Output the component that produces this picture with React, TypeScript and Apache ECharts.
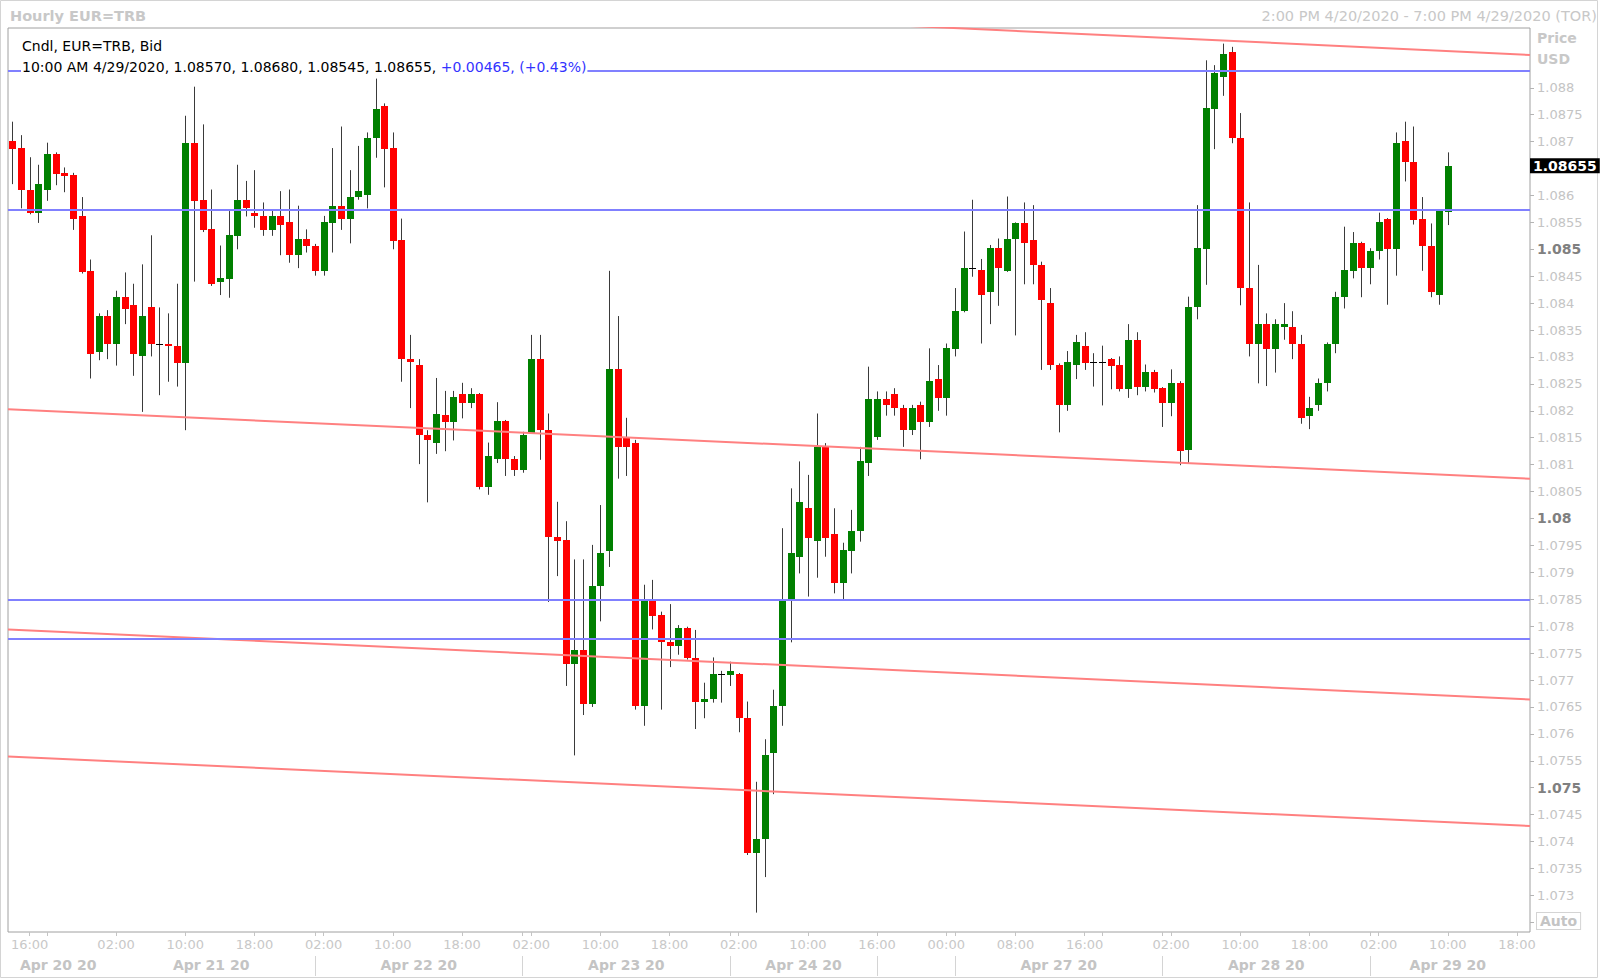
import React, { useEffect, useRef } from 'react';
import * as echarts from 'echarts';

// ---------- Hourly EUR=TRB candles (slot index = hourly bar) ----------
const opens = [
  1.08701,1.08688,1.08611,1.08567,1.08610,1.08677,1.08641,1.08638,1.08562,1.08460,
  1.08310,1.08376,1.08325,1.08411,1.08397,1.08301,1.08392,1.08325,1.08325,1.08321,
  1.08289,1.08698,1.08592,1.08537,1.08440,1.08445,1.08525,1.08592,1.08567,1.08562,
  1.08536,1.08562,1.08551,1.08489,1.08520,1.08507,1.08459,1.08549,1.08581,1.08556,
  1.08597,1.08601,1.08706,1.08767,1.08688,1.08517,1.08296,1.08285,1.08156,1.08140,
  1.08192,1.08180,1.08231,1.08215,1.08231,1.08059,1.08110,1.08181,1.08110,1.08090,
  1.08159,1.08296,1.08164,1.07965,1.07960,1.07730,1.07755,1.07656,1.07875,1.07940,
  1.08278,1.08149,1.08140,1.07651,1.07850,1.07821,1.07770,1.07764,1.07796,1.07741,
  1.07659,1.07664,1.07711,1.07710,1.07711,1.07629,1.07378,1.07404,1.07565,1.07651,
  1.07850,1.07929,1.08020,1.07958,1.08132,1.07971,1.07880,1.07940,1.07976,1.08104,
  1.08151,1.08222,1.08231,1.08206,1.08164,1.08211,1.08180,1.08260,1.08224,1.08314,
  1.08385,1.08466,1.08462,1.08421,1.08502,1.08460,1.08519,1.08548,1.08517,1.08471,
  1.08401,1.08286,1.08210,1.08285,1.08321,1.08290,1.08290,1.08296,1.08286,1.08240,
  1.08332,1.08245,1.08272,1.08242,1.08215,1.08252,1.08127,1.08392,1.08500,1.08760,
  1.08820,1.08867,1.08706,1.08428,1.08325,1.08361,1.08315,1.08355,1.08356,1.08325,
  1.08191,1.08211,1.08251,1.08325,1.08411,1.08460,1.08512,1.08465,1.08496,1.08556,
  1.08501,1.08701,1.08662,1.08556,1.08506,1.08416,1.08570,
];
const highs = [
  1.08737,1.08712,1.08671,1.08657,1.08698,1.08680,1.08652,1.08642,1.08597,1.08481,
  1.08381,1.08387,1.08423,1.08457,1.08436,1.08472,1.08526,1.08392,1.08381,1.08436,
  1.08748,1.08802,1.08732,1.08611,1.08507,1.08571,1.08657,1.08627,1.08647,1.08587,
  1.08572,1.08608,1.08611,1.08581,1.08537,1.08510,1.08562,1.08688,1.08728,1.08647,
  1.08692,1.08717,1.08817,1.08771,1.08717,1.08557,1.08341,1.08296,1.08164,1.08261,
  1.08237,1.08237,1.08252,1.08242,1.08233,1.08141,1.08216,1.08183,1.08116,1.08161,
  1.08341,1.08341,1.08195,1.08031,1.07995,1.07924,1.07924,1.07951,1.08025,1.08460,
  1.08376,1.08187,1.08146,1.07877,1.07886,1.07827,1.07841,1.07802,1.07799,1.07793,
  1.07695,1.07742,1.07717,1.07734,1.07713,1.07660,1.07511,1.07590,1.07682,1.07982,
  1.08056,1.08106,1.08081,1.08195,1.08140,1.08019,1.07955,1.08016,1.08133,1.08282,
  1.08236,1.08236,1.08242,1.08211,1.08211,1.08217,1.08316,1.08285,1.08325,1.08428,
  1.08533,1.08592,1.08482,1.08508,1.08520,1.08598,1.08550,1.08587,1.08582,1.08477,
  1.08428,1.08288,1.08311,1.08341,1.08346,1.08307,1.08321,1.08298,1.08301,1.08361,
  1.08346,1.08286,1.08276,1.08244,1.08277,1.08255,1.08412,1.08582,1.08851,1.08842,
  1.08882,1.08876,1.08753,1.08587,1.08471,1.08381,1.08370,1.08400,1.08385,1.08341,
  1.08226,1.08260,1.08327,1.08421,1.08542,1.08532,1.08514,1.08502,1.08568,1.08558,
  1.08717,1.08737,1.08728,1.08597,1.08548,1.08574,1.08680,
];
const lows = [
  1.08621,1.08576,1.08565,1.08549,1.08590,1.08619,1.08606,1.08536,1.08455,1.08260,
  1.08294,1.08296,1.08284,1.08361,1.08265,1.08198,1.08301,1.08229,1.08254,1.08245,
  1.08164,1.08440,1.08532,1.08432,1.08415,1.08410,1.08500,1.08561,1.08540,1.08525,
  1.08525,1.08489,1.08475,1.08465,1.08494,1.08451,1.08451,1.08494,1.08536,1.08511,
  1.08592,1.08576,1.08670,1.08615,1.08500,1.08254,1.08205,1.08101,1.08030,1.08120,
  1.08125,1.08145,1.08186,1.08205,1.08054,1.08044,1.08103,1.08079,1.08079,1.08085,
  1.08157,1.08109,1.07845,1.07893,1.07689,1.07560,1.07635,1.07650,1.07809,1.07910,
  1.08074,1.08079,1.07645,1.07615,1.07794,1.07645,1.07724,1.07747,1.07738,1.07609,
  1.07629,1.07658,1.07658,1.07689,1.07603,1.07375,1.07268,1.07334,1.07488,1.07615,
  1.07770,1.07898,1.07855,1.07890,1.07929,1.07861,1.07849,1.07898,1.07957,1.08079,
  1.08146,1.08191,1.08191,1.08133,1.08155,1.08110,1.08170,1.08200,1.08191,1.08301,
  1.08383,1.08449,1.08325,1.08361,1.08395,1.08458,1.08340,1.08435,1.08435,1.08276,
  1.08276,1.08160,1.08200,1.08259,1.08276,1.08245,1.08210,1.08240,1.08236,1.08224,
  1.08229,1.08236,1.08234,1.08170,1.08190,1.08099,1.08103,1.08370,1.08434,1.08686,
  1.08785,1.08697,1.08396,1.08301,1.08251,1.08246,1.08271,1.08332,1.08296,1.08176,
  1.08166,1.08200,1.08236,1.08307,1.08390,1.08446,1.08411,1.08435,1.08481,1.08397,
  1.08451,1.08626,1.08546,1.08460,1.08411,1.08397,1.08545,
];
const closes = [
  1.08686,1.08610,1.08567,1.08621,1.08677,1.08640,1.08637,1.08556,1.08458,1.08306,
  1.08376,1.08325,1.08411,1.08390,1.08306,1.08376,1.08325,1.08325,1.08320,1.08289,
  1.08698,1.08590,1.08536,1.08435,1.08447,1.08526,1.08592,1.08576,1.08561,1.08536,
  1.08562,1.08546,1.08489,1.08520,1.08506,1.08459,1.08551,1.08581,1.08556,1.08598,
  1.08608,1.08706,1.08761,1.08686,1.08516,1.08296,1.08290,1.08156,1.08145,1.08195,
  1.08180,1.08226,1.08215,1.08231,1.08059,1.08116,1.08181,1.08110,1.08090,1.08156,
  1.08296,1.08164,1.07965,1.07959,1.07730,1.07755,1.07656,1.07875,1.07936,1.08278,
  1.08133,1.08133,1.07651,1.07850,1.07819,1.07770,1.07764,1.07796,1.07741,1.07659,
  1.07664,1.07711,1.07711,1.07716,1.07629,1.07378,1.07404,1.07561,1.07651,1.07850,
  1.07936,1.08031,1.07964,1.08132,1.07964,1.07880,1.07942,1.07977,1.08106,1.08222,
  1.08222,1.08210,1.08205,1.08164,1.08206,1.08180,1.08255,1.08224,1.08316,1.08386,
  1.08466,1.08466,1.08415,1.08502,1.08465,1.08520,1.08548,1.08511,1.08471,1.08405,
  1.08285,1.08210,1.08291,1.08327,1.08289,1.08290,1.08290,1.08284,1.08240,1.08332,
  1.08245,1.08272,1.08240,1.08215,1.08252,1.08125,1.08392,1.08502,1.08762,1.08827,
  1.08863,1.08706,1.08429,1.08325,1.08361,1.08315,1.08361,1.08361,1.08325,1.08186,
  1.08206,1.08252,1.08325,1.08412,1.08462,1.08512,1.08465,1.08497,1.08550,1.08501,
  1.08697,1.08662,1.08554,1.08506,1.08421,1.08572,1.08655,
];

// ---------- axes ----------
const SLOT_MIN = -0.5;
const SLOT_MAX = 175.5;
const PRICE_MIN = 1.07232;
const PRICE_MAX = 1.08911;

const yTickValues = [
  1.0725, 1.073, 1.0735, 1.074, 1.0745, 1.075, 1.0755, 1.076, 1.0765, 1.077, 1.0775,
  1.078, 1.0785, 1.079, 1.0795, 1.08, 1.0805, 1.081, 1.0815, 1.082, 1.0825, 1.083,
  1.0835, 1.084, 1.0845, 1.085, 1.0855, 1.086, 1.0865, 1.087, 1.0875, 1.088,
];
// 1.0865 is hidden behind the last-price box in the reference
const yLabelValues = [
  1.073, 1.0735, 1.074, 1.0745, 1.075, 1.0755, 1.076, 1.0765, 1.077, 1.0775,
  1.078, 1.0785, 1.079, 1.0795, 1.08, 1.0805, 1.081, 1.0815, 1.082, 1.0825, 1.083,
  1.0835, 1.084, 1.0845, 1.085, 1.0855, 1.086, 1.087, 1.0875, 1.088,
];
const yBoldValues = [1.075, 1.08, 1.085];

const timeLabelIdx = [2, 12, 20, 28, 36, 44, 52, 60, 68, 76, 84, 92, 100, 108, 116, 124, 134, 142, 150, 158, 166, 174];
const timeLabelText = ['16:00', '02:00', '10:00', '18:00', '02:00', '10:00', '18:00', '02:00', '10:00', '18:00', '02:00', '10:00', '16:00', '00:00', '08:00', '16:00', '02:00', '10:00', '18:00', '02:00', '10:00', '18:00'];
const timeTickIdx = [2, 4, 12, 20, 28, 35, 36, 44, 52, 59, 60, 68, 76, 83, 84, 92, 100, 108, 109, 116, 124, 126, 133, 134, 142, 150, 157, 158, 166, 174];
const dateLabelIdx = [5.3, 23, 47, 71, 91.5, 121, 145, 166];
const dateLabelText = ['Apr 20 20', 'Apr 21 20', 'Apr 22 20', 'Apr 23 20', 'Apr 24 20', 'Apr 27 20', 'Apr 28 20', 'Apr 29 20'];
const daySeparatorIdx = [35, 59, 83, 100, 109, 133, 157];

// ---------- drawn studies ----------
const levelLines = [1.08832, 1.08573, 1.0785, 1.07777];
const trendStart = [1.08993, 1.08203, 1.07794, 1.07558];
const trendEnd = [1.08861, 1.08074, 1.07664, 1.07429];
const lastPrice = 1.08655;
const lastBarTime = '10:00 AM 4/29/2020';
const changeText = '+0.00465, (+0.43%)';

const FONT = 'DejaVu Sans';

function findLabel(v: number, idx: number[], txt: string[]) {
  const k = idx.findIndex((x) => Math.abs(x - v) < 1e-6);
  return k >= 0 ? txt[k] : '';
}

export default function App() {
  const ref = useRef<HTMLDivElement>(null);

  useEffect(() => {
    if (!ref.current) return;
    const chart = echarts.init(ref.current, undefined, { renderer: 'svg' });

    const candleData = opens.map((o, i) => [i, o, closes[i], lows[i], highs[i]]);
    const last = opens.length - 1;
    const headerLine2 = `${lastBarTime}, ${opens[last].toFixed(5)}, ${highs[last].toFixed(5)}, ${lows[last].toFixed(5)}, ${closes[last].toFixed(5)}, `;

    const trendSeries = trendStart.map((s, k) => {
      const ser: any = {
        type: 'line',
        xAxisIndex: 0,
        yAxisIndex: 0,
        data: [[SLOT_MIN, s], [SLOT_MAX, trendEnd[k]]],
        symbol: 'none',
        silent: true,
        z: 3,
        lineStyle: { color: '#ff8080', width: 2 },
      };
      if (k === 0) {
        ser.markLine = {
          symbol: ['none', 'none'],
          silent: true,
          animation: false,
          precision: 5,
          data: [
            ...levelLines.map((v) => ({
              yAxis: v,
              lineStyle: { color: '#8080ff', width: 2, type: 'solid' },
              label: { show: false },
            })),
            {
              yAxis: lastPrice,
              lineStyle: { color: 'rgba(0,0,0,0)', width: 1, opacity: 1 },
              label: {
                show: true,
                position: 'end',
                distance: 0,
                formatter: lastPrice.toFixed(5),
                backgroundColor: '#000000',
                color: '#ffffff',
                opacity: 1,
                fontWeight: 'bold',
                fontSize: 14,
                fontFamily: FONT,
                padding: [1, 3, 0, 3],
              },
            },
          ],
        };
      }
      return ser;
    });

    const option: any = {
      animation: false,
      backgroundColor: '#ffffff',
      grid: {
        left: 8,
        top: 28,
        width: 1522,
        height: 904,
        show: true,
        borderColor: '#a0a0a0',
        borderWidth: 1,
        backgroundColor: 'transparent',
      },
      xAxis: [
        {
          type: 'value',
          min: SLOT_MIN,
          max: SLOT_MAX,
          position: 'bottom',
          axisLine: { show: false, onZero: false },
          splitLine: { show: false },
          axisTick: { show: true, customValues: timeTickIdx, length: 4, lineStyle: { color: '#c4c4c4' } },
          axisLabel: {
            customValues: timeLabelIdx,
            formatter: (v: number) => findLabel(v, timeLabelIdx, timeLabelText),
            color: '#c8c8c8',
            fontFamily: FONT,
            fontSize: 13,
            margin: 6,
          },
        },
        {
          type: 'value',
          min: SLOT_MIN,
          max: SLOT_MAX,
          position: 'bottom',
          offset: 24,
          axisLine: { show: false, onZero: false },
          splitLine: { show: false },
          axisTick: { show: true, customValues: daySeparatorIdx, length: 20, lineStyle: { color: '#d4d4d4' } },
          axisLabel: {
            customValues: dateLabelIdx,
            formatter: (v: number) => findLabel(v, dateLabelIdx, dateLabelText),
            color: '#c4c4c4',
            fontFamily: FONT,
            fontWeight: 'bold',
            fontSize: 14,
            margin: 2,
          },
        },
      ],
      yAxis: {
        type: 'value',
        position: 'right',
        min: PRICE_MIN,
        max: PRICE_MAX,
        axisLine: { show: false, onZero: false },
        splitLine: { show: false },
        axisTick: { show: true, customValues: yTickValues, length: 4, lineStyle: { color: '#b4b4b4' } },
        axisLabel: {
          customValues: yLabelValues,
          margin: 7,
          formatter: (v: number) => {
            const s = String(+v.toFixed(4));
            const bold = yBoldValues.some((b) => Math.abs(b - v) < 1e-7);
            return bold ? `{b|${s}}` : `{n|${s}}`;
          },
          rich: {
            n: { color: '#c4c4c4', fontSize: 13, fontFamily: FONT },
            b: { color: '#808080', fontSize: 14, fontWeight: 'bold', fontFamily: FONT },
          },
        },
      },
      graphic: [
        {
          type: 'rect',
          silent: true,
          z: 0,
          shape: { x: 0.5, y: 0.5, width: 1597, height: 977 },
          style: { fill: 'none', stroke: '#d4d4d4', lineWidth: 1 },
        },
        {
          type: 'text',
          left: 10,
          top: 8,
          z: 100,
          style: { text: 'Hourly EUR=TRB', fill: '#c8c8c8', font: `bold 14.5px "${FONT}"` },
        },
        {
          type: 'text',
          right: 3,
          top: 8,
          z: 100,
          style: { text: '2:00 PM 4/20/2020 - 7:00 PM 4/29/2020 (TOR)', fill: '#c8c8c8', font: `14.5px "${FONT}"` },
        },
        {
          type: 'text',
          left: 22,
          top: 39,
          z: 100,
          style: { text: 'Cndl, EUR=TRB, Bid', fill: '#000', font: `14px "${FONT}"` },
        },
        {
          type: 'text',
          left: 21,
          top: 58,
          z: 100,
          style: {
            text: `{k|${headerLine2}}{c|${changeText}}`,
            font: `14px "${FONT}"`,
            backgroundColor: '#ffffff',
            padding: [2, 1, 2, 1],
            rich: {
              k: { fill: '#000', color: '#000', font: `14px "${FONT}"` },
              c: { fill: '#3333ff', color: '#3333ff', font: `14px "${FONT}"` },
            },
          },
        },
        {
          type: 'text',
          left: 1537,
          top: 31,
          z: 100,
          style: { text: 'Price', fill: '#c8c8c8', font: `bold 14px "${FONT}"` },
        },
        {
          type: 'text',
          left: 1537,
          top: 52,
          z: 100,
          style: { text: 'USD', fill: '#c8c8c8', font: `bold 14px "${FONT}"` },
        },
        {
          type: 'text',
          left: 1536,
          top: 912,
          z: 100,
          style: {
            text: 'Auto',
            fill: '#c4c4c4',
            font: `bold 14px "${FONT}"`,
            padding: [1, 3, 1, 3],
            borderColor: '#d4d4d4',
            borderWidth: 1,
            backgroundColor: '#fff',
          },
        },
      ],
      series: [
        {
          type: 'custom',
          name: 'EUR=TRB',
          xAxisIndex: 0,
          yAxisIndex: 0,
          z: 2,
          clip: true,
          silent: true,
          encode: { x: 0, y: [1, 2, 3, 4] },
          data: candleData,
          renderItem: (params: any, api: any) => {
            const x = api.value(0);
            const o = api.value(1);
            const c = api.value(2);
            const l = api.value(3);
            const h = api.value(4);
            const po = api.coord([x, o]);
            const pc = api.coord([x, c]);
            const pl = api.coord([x, l]);
            const ph = api.coord([x, h]);
            const slot = api.size([1, 0])[0];
            const w = Math.max(3, Math.round(slot * 0.8));
            const cx = Math.round(po[0]);
            const top = Math.round(Math.min(po[1], pc[1]));
            const bot = Math.round(Math.max(po[1], pc[1]));
            const color = c > o ? '#008000' : c < o ? '#ff0000' : '#000000';
            return {
              type: 'group',
              children: [
                {
                  type: 'line',
                  shape: { x1: cx + 0.5, y1: ph[1], x2: cx + 0.5, y2: pl[1] },
                  style: { stroke: '#3a3a3a', lineWidth: 1 },
                },
                {
                  type: 'rect',
                  shape: { x: cx + 0.5 - w / 2, y: top, width: w, height: Math.max(1, bot - top) },
                  style: { fill: color },
                },
              ],
            };
          },
        },
        ...trendSeries,
      ],
    };

    chart.setOption(option);
    return () => chart.dispose();
  }, []);

  return (
    <div
      ref={ref}
      style={{ position: 'fixed', left: 0, top: 0, width: 1600, height: 979, background: '#fff' }}
    />
  );
}
